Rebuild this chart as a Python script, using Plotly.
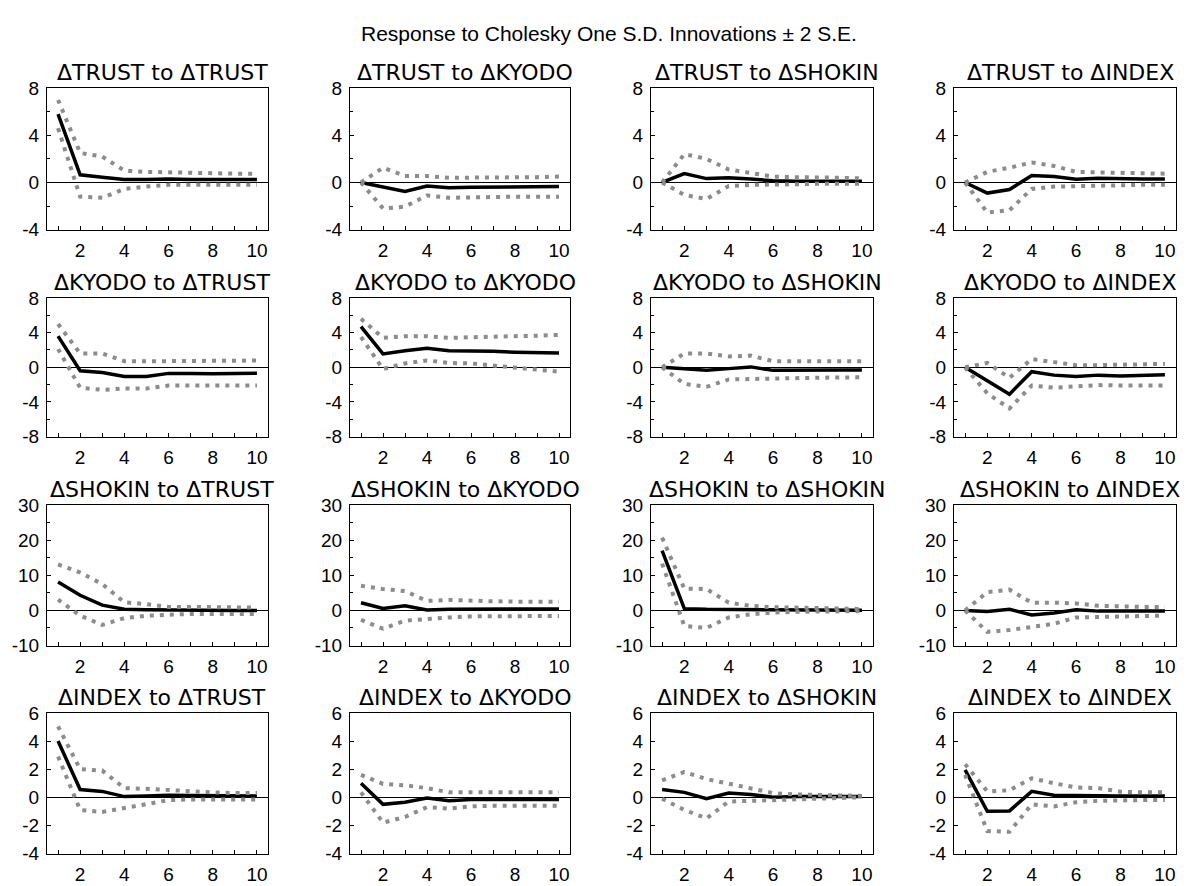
import plotly.graph_objects as go

W, H = 1190, 886

periods = list(range(1, 11))
x_tick_text = ["", "2", "", "4", "", "6", "", "8", "", "10"]

variables = ["\u0394TRUST", "\u0394KYODO", "\u0394SHOKIN", "\u0394INDEX"]
main_title = "Response to Cholesky One S.D. Innovations \u00b1 2 S.E."

# response of row variable to column variable (row-major order)
response = [
    [5.8, 0.65, 0.45, 0.25, 0.25, 0.3, 0.25, 0.25, 0.25, 0.25],
    [0.0, -0.4, -0.77, -0.3, -0.45, -0.4, -0.4, -0.4, -0.38, -0.35],
    [0.0, 0.75, 0.33, 0.4, 0.3, 0.14, 0.1, 0.1, 0.1, 0.1],
    [0.0, -0.9, -0.6, 0.6, 0.5, 0.28, 0.35, 0.3, 0.3, 0.3],
    [3.6, -0.4, -0.6, -1.05, -1.05, -0.7, -0.7, -0.75, -0.7, -0.67],
    [4.7, 1.55, 1.9, 2.2, 1.9, 1.9, 1.85, 1.75, 1.75, 1.65],
    [0.0, -0.15, -0.35, -0.15, 0.05, -0.35, -0.3, -0.3, -0.3, -0.3],
    [0.0, -1.5, -3.1, -0.5, -0.9, -1.05, -0.9, -1.0, -0.9, -0.85],
    [8.1, 4.3, 1.5, 0.35, 0.2, 0.1, 0.0, 0.0, 0.0, 0.0],
    [2.2, 0.55, 1.3, 0.1, 0.35, 0.4, 0.4, 0.4, 0.4, 0.4],
    [17.0, 0.5, 0.3, 0.25, 0.2, 0.15, 0.1, 0.05, 0.05, 0.05],
    [0.0, -0.3, 0.3, -1.3, -0.75, 0.2, -0.2, -0.2, -0.2, -0.2],
    [4.0, 0.55, 0.42, 0.05, 0.1, 0.15, 0.12, 0.1, 0.1, 0.1],
    [1.0, -0.5, -0.35, -0.05, -0.25, -0.15, -0.15, -0.15, -0.15, -0.15],
    [0.55, 0.35, -0.1, 0.3, 0.2, 0.0, 0.05, 0.05, 0.05, 0.05],
    [1.95, -1.0, -0.97, 0.42, 0.15, 0.12, 0.12, 0.1, 0.1, 0.1],
]

upper = [
    [7.0, 2.5, 2.2, 1.0, 0.9, 0.85, 0.8, 0.75, 0.75, 0.75],
    [0.0, 1.25, 0.55, 0.55, 0.4, 0.4, 0.4, 0.4, 0.45, 0.5],
    [0.0, 2.4, 2.0, 1.1, 0.8, 0.5, 0.45, 0.45, 0.4, 0.35],
    [0.0, 0.9, 1.25, 1.7, 1.4, 0.9, 0.85, 0.8, 0.75, 0.75],
    [5.0, 1.6, 1.6, 0.7, 0.7, 0.75, 0.75, 0.75, 0.75, 0.8],
    [5.6, 3.4, 3.6, 3.6, 3.4, 3.5, 3.55, 3.6, 3.65, 3.75],
    [0.0, 1.6, 1.6, 1.25, 1.35, 0.7, 0.7, 0.7, 0.7, 0.7],
    [0.0, 0.5, -1.2, 0.95, 0.6, 0.25, 0.25, 0.3, 0.3, 0.4],
    [13.1, 10.8, 7.5, 2.3, 1.8, 1.0, 1.0, 0.9, 0.9, 0.8],
    [7.0, 6.1, 5.5, 2.7, 3.0, 2.7, 2.6, 2.5, 2.5, 2.5],
    [20.7, 6.2, 6.1, 2.2, 1.3, 0.9, 0.8, 0.6, 0.5, 0.4],
    [0.0, 5.2, 5.9, 2.2, 2.2, 2.0, 1.3, 1.1, 1.0, 1.0],
    [5.05, 2.0, 1.9, 0.65, 0.6, 0.5, 0.4, 0.35, 0.3, 0.3],
    [1.6, 0.95, 0.85, 0.65, 0.35, 0.35, 0.35, 0.35, 0.35, 0.35],
    [1.2, 1.8, 1.3, 0.95, 0.65, 0.3, 0.2, 0.15, 0.12, 0.1],
    [2.35, 0.42, 0.5, 1.35, 1.0, 0.7, 0.65, 0.4, 0.35, 0.35],
]

lower = [
    [4.6, -1.2, -1.3, -0.55, -0.35, -0.2, -0.2, -0.2, -0.2, -0.2],
    [0.0, -2.2, -2.05, -1.1, -1.3, -1.25, -1.2, -1.2, -1.2, -1.2],
    [0.0, -1.05, -1.4, -0.3, -0.2, -0.2, -0.15, -0.1, -0.1, -0.1],
    [0.0, -2.55, -2.35, -0.55, -0.35, -0.3, -0.25, -0.2, -0.2, -0.2],
    [2.1, -2.35, -2.6, -2.45, -2.45, -2.1, -2.1, -2.1, -2.1, -2.1],
    [3.5, -0.2, 0.45, 0.8, 0.5, 0.45, 0.2, -0.05, -0.2, -0.5],
    [0.0, -1.9, -2.25, -1.4, -1.35, -1.35, -1.25, -1.2, -1.2, -1.15],
    [0.0, -3.0, -4.75, -2.1, -2.35, -2.25, -2.05, -2.1, -2.1, -2.1],
    [3.1, -1.5, -4.1, -2.2, -1.5, -1.2, -1.0, -1.0, -1.0, -1.0],
    [-2.7, -5.2, -2.9, -2.4, -2.0, -1.7, -1.6, -1.6, -1.6, -1.6],
    [13.3, -4.4, -5.0, -2.0, -1.1, -0.6, -0.4, -0.3, -0.25, -0.2],
    [0.0, -6.1, -5.6, -4.7, -3.8, -2.0, -1.8, -1.7, -1.6, -1.5],
    [2.9, -0.9, -1.05, -0.75, -0.5, -0.2, -0.15, -0.15, -0.15, -0.15],
    [0.35, -1.8, -1.4, -0.7, -0.8, -0.65, -0.6, -0.6, -0.6, -0.6],
    [-0.1, -0.9, -1.5, -0.3, -0.25, -0.2, -0.1, -0.05, 0.0, 0.0],
    [1.6, -2.4, -2.45, -0.5, -0.65, -0.35, -0.25, -0.2, -0.2, -0.2],
]

# y-axis settings per row
row_ranges = [[-4, 8], [-8, 8], [-10, 30], [-4, 6]]
row_tickvals = [[-4, 0, 4, 8], [-8, -4, 0, 4, 8], [-10, 0, 10, 20, 30], [-4, -2, 0, 2, 4, 6]]
row_ticktext = [["-4", "0", "4", "8"], ["-8", "-4", "0", "4", "8"],
                ["-10", "0", "10", "20", "30"], ["-4", "-2", "0", "2", "4", "6"]]
row_minor = [2, 2, 5, None]

# panel pixel boxes
col_px = [(47, 268), (350, 570), (651, 873), (954, 1176)]
row_px = [(80, 225), (295, 437), (507, 651), (720, 864)]

TICK_FONT = dict(family="Liberation Sans, Arial, sans-serif", size=19, color="black")
TITLE_FONT = dict(family="DejaVu Sans, Verdana, sans-serif", size=22, color="black")

fig = go.Figure()
layout = dict(
    width=W, height=H,
    margin=dict(l=0, r=0, t=0, b=0),
    paper_bgcolor="white", plot_bgcolor="white",
    showlegend=False,
)
annotations = []

for r in range(4):
    for c in range(4):
        k = r * 4 + c
        idx = "" if k == 0 else str(k + 1)
        xa, ya = "x" + idx, "y" + idx
        fig.add_trace(go.Scatter(x=periods, y=response[k], mode="lines",
                                 line=dict(color="black", width=3.5),
                                 xaxis=xa, yaxis=ya, hoverinfo="skip"))
        for band in (upper[k], lower[k]):
            fig.add_trace(go.Scatter(x=periods, y=band, mode="lines",
                                     line=dict(color="rgb(140,140,140)", width=4,
                                               dash="4px,6px"),
                                     xaxis=xa, yaxis=ya, hoverinfo="skip"))
        x0, x1 = col_px[c]
        y0, y1 = row_px[r]
        xd = [x0 / W, x1 / W]
        yd = [1 - y1 / H, 1 - y0 / H]
        layout["xaxis" + idx] = dict(
            domain=xd, anchor=ya, range=[0.5, 10.5],
            tickvals=periods, ticktext=x_tick_text,
            ticks="inside", ticklen=4, tickcolor="black", tickwidth=1,
            ticklabelstandoff=4,
            showline=True, linecolor="black", linewidth=1, mirror=True,
            showgrid=False, zeroline=False, tickfont=TICK_FONT,
            fixedrange=True,
        )
        yaxis = dict(
            domain=yd, anchor=xa, range=row_ranges[r],
            tickvals=row_tickvals[r], ticktext=row_ticktext[r],
            ticks="inside", ticklen=4, tickcolor="black", tickwidth=1,
            ticklabelstandoff=3,
            showline=True, linecolor="black", linewidth=1, mirror=True,
            showgrid=False, zeroline=True, zerolinecolor="black", zerolinewidth=1,
            tickfont=TICK_FONT, fixedrange=True,
        )
        if row_minor[r]:
            yaxis["minor"] = dict(dtick=row_minor[r], tick0=0, ticks="inside",
                                  ticklen=3, tickcolor="black", showgrid=False)
        layout["yaxis" + idx] = yaxis
        annotations.append(dict(
            text=f"{variables[r]} to {variables[c]}",
            xref="paper", yref="paper",
            x=((x0 + x1) / 2 + 5) / W, y=1 - y0 / H,
            xanchor="center", yanchor="bottom", yshift=1,
            showarrow=False, font=TITLE_FONT,
        ))

annotations.append(dict(
    text=main_title, xref="paper", yref="paper",
    x=609 / W, y=1 - 24 / H, xanchor="center", yanchor="middle",
    showarrow=False,
    font=dict(family="Liberation Sans, Arial, sans-serif", size=21, color="black"),
))
layout["annotations"] = annotations
fig.update_layout(**layout)
fig.write_html(
    "out.html",
    config={"displayModeBar": False},
    post_script="document.body.style.margin='0';document.body.style.overflow='hidden';",
)
